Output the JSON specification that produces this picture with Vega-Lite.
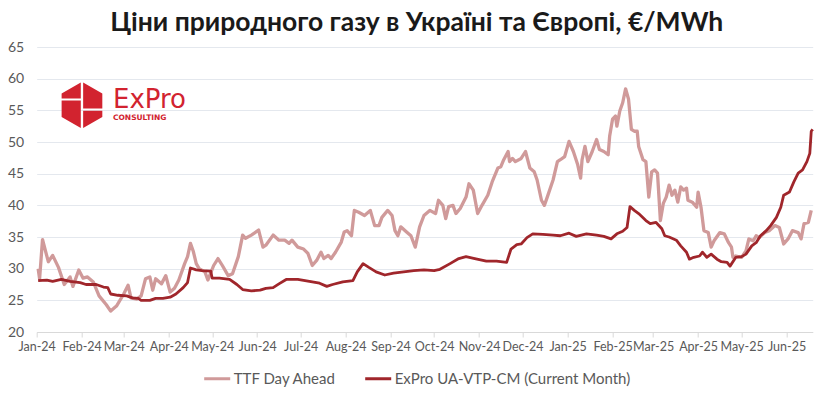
{
  "$schema": "https://vega.github.io/schema/vega-lite/v6.json",
  "width": 776,
  "height": 285,
  "autosize": {"type": "none"},
  "padding": {"left": 36.7, "top": 47, "right": 21.3, "bottom": 64},
  "background": "white",
  "title": {
    "text": "Ціни природного газу в Україні та Європі, €/MWh",
    "font": "Lato",
    "fontSize": 26.5,
    "fontWeight": "bold",
    "color": "#1a1a1a",
    "anchor": "middle",
    "frame": "group",
    "dx": -8,
    "dy": 36,
    "offset": 19,
    "baseline": "alphabetic"
  },
  "config": {
    "view": {"stroke": null},
    "font": "Lato"
  },
  "datasets": {
    "ttf": [
      {"date": "2024-01-02", "value": 30.0},
      {"date": "2024-01-03", "value": 28.4},
      {"date": "2024-01-05", "value": 34.6},
      {"date": "2024-01-09", "value": 31.1},
      {"date": "2024-01-12", "value": 32.1},
      {"date": "2024-01-16", "value": 30.2},
      {"date": "2024-01-20", "value": 27.5},
      {"date": "2024-01-24", "value": 28.7},
      {"date": "2024-01-26", "value": 27.2},
      {"date": "2024-01-30", "value": 29.8},
      {"date": "2024-02-02", "value": 28.5},
      {"date": "2024-02-05", "value": 28.7},
      {"date": "2024-02-09", "value": 27.9},
      {"date": "2024-02-13", "value": 25.7},
      {"date": "2024-02-18", "value": 24.3},
      {"date": "2024-02-21", "value": 23.3},
      {"date": "2024-02-25", "value": 24.1},
      {"date": "2024-03-01", "value": 26.0},
      {"date": "2024-03-04", "value": 27.4},
      {"date": "2024-03-06", "value": 25.4},
      {"date": "2024-03-10", "value": 25.2},
      {"date": "2024-03-13", "value": 25.7},
      {"date": "2024-03-16", "value": 28.4},
      {"date": "2024-03-19", "value": 28.7},
      {"date": "2024-03-21", "value": 26.6},
      {"date": "2024-03-23", "value": 28.4},
      {"date": "2024-03-27", "value": 27.6},
      {"date": "2024-03-30", "value": 28.9},
      {"date": "2024-04-02", "value": 26.3},
      {"date": "2024-04-05", "value": 26.9},
      {"date": "2024-04-08", "value": 28.2},
      {"date": "2024-04-12", "value": 30.8},
      {"date": "2024-04-14", "value": 31.9},
      {"date": "2024-04-16", "value": 34.0},
      {"date": "2024-04-18", "value": 32.7},
      {"date": "2024-04-20", "value": 30.8},
      {"date": "2024-04-22", "value": 30.0},
      {"date": "2024-04-26", "value": 29.5},
      {"date": "2024-04-28", "value": 28.2},
      {"date": "2024-05-02", "value": 30.5},
      {"date": "2024-05-05", "value": 31.6},
      {"date": "2024-05-08", "value": 30.5},
      {"date": "2024-05-12", "value": 28.9},
      {"date": "2024-05-15", "value": 29.2},
      {"date": "2024-05-19", "value": 31.9},
      {"date": "2024-05-22", "value": 35.3},
      {"date": "2024-05-24", "value": 34.8},
      {"date": "2024-05-28", "value": 35.3},
      {"date": "2024-05-30", "value": 35.6},
      {"date": "2024-06-02", "value": 36.1},
      {"date": "2024-06-05", "value": 33.4},
      {"date": "2024-06-07", "value": 33.7},
      {"date": "2024-06-12", "value": 35.3},
      {"date": "2024-06-16", "value": 34.5},
      {"date": "2024-06-20", "value": 34.5},
      {"date": "2024-06-23", "value": 34.0},
      {"date": "2024-06-25", "value": 34.5},
      {"date": "2024-06-29", "value": 33.4},
      {"date": "2024-07-03", "value": 33.1},
      {"date": "2024-07-06", "value": 32.4},
      {"date": "2024-07-09", "value": 30.5},
      {"date": "2024-07-12", "value": 31.3},
      {"date": "2024-07-15", "value": 32.6},
      {"date": "2024-07-17", "value": 31.6},
      {"date": "2024-07-20", "value": 32.1},
      {"date": "2024-07-22", "value": 31.6},
      {"date": "2024-07-25", "value": 32.6},
      {"date": "2024-07-29", "value": 34.2},
      {"date": "2024-07-31", "value": 35.8},
      {"date": "2024-08-02", "value": 36.0},
      {"date": "2024-08-05", "value": 35.2},
      {"date": "2024-08-07", "value": 39.2},
      {"date": "2024-08-10", "value": 38.9},
      {"date": "2024-08-14", "value": 38.4},
      {"date": "2024-08-18", "value": 39.2},
      {"date": "2024-08-21", "value": 36.8},
      {"date": "2024-08-24", "value": 36.8},
      {"date": "2024-08-26", "value": 38.1},
      {"date": "2024-08-30", "value": 39.2},
      {"date": "2024-09-02", "value": 38.4},
      {"date": "2024-09-04", "value": 36.0},
      {"date": "2024-09-06", "value": 35.2},
      {"date": "2024-09-08", "value": 36.6},
      {"date": "2024-09-12", "value": 35.8},
      {"date": "2024-09-15", "value": 35.2},
      {"date": "2024-09-18", "value": 33.4},
      {"date": "2024-09-21", "value": 36.6},
      {"date": "2024-09-24", "value": 38.4},
      {"date": "2024-09-28", "value": 39.2},
      {"date": "2024-10-02", "value": 38.7},
      {"date": "2024-10-04", "value": 40.8},
      {"date": "2024-10-07", "value": 40.0},
      {"date": "2024-10-09", "value": 37.9},
      {"date": "2024-10-11", "value": 39.8},
      {"date": "2024-10-14", "value": 40.0},
      {"date": "2024-10-16", "value": 38.7},
      {"date": "2024-10-19", "value": 39.5},
      {"date": "2024-10-23", "value": 41.3},
      {"date": "2024-10-25", "value": 43.4},
      {"date": "2024-10-28", "value": 42.4},
      {"date": "2024-10-31", "value": 38.7},
      {"date": "2024-11-03", "value": 40.0},
      {"date": "2024-11-07", "value": 41.6},
      {"date": "2024-11-10", "value": 43.7},
      {"date": "2024-11-14", "value": 45.9},
      {"date": "2024-11-16", "value": 46.1},
      {"date": "2024-11-18", "value": 47.2},
      {"date": "2024-11-21", "value": 48.5},
      {"date": "2024-11-22", "value": 46.9},
      {"date": "2024-11-24", "value": 47.4},
      {"date": "2024-11-26", "value": 46.9},
      {"date": "2024-11-30", "value": 47.4},
      {"date": "2024-12-03", "value": 48.5},
      {"date": "2024-12-06", "value": 45.9},
      {"date": "2024-12-09", "value": 45.3},
      {"date": "2024-12-11", "value": 44.0},
      {"date": "2024-12-14", "value": 40.8},
      {"date": "2024-12-16", "value": 40.0},
      {"date": "2024-12-18", "value": 41.3},
      {"date": "2024-12-22", "value": 44.0},
      {"date": "2024-12-25", "value": 46.9},
      {"date": "2024-12-27", "value": 47.2},
      {"date": "2024-12-30", "value": 47.7},
      {"date": "2025-01-02", "value": 50.1},
      {"date": "2025-01-05", "value": 48.5},
      {"date": "2025-01-08", "value": 46.4},
      {"date": "2025-01-10", "value": 44.3},
      {"date": "2025-01-11", "value": 47.2},
      {"date": "2025-01-13", "value": 49.3},
      {"date": "2025-01-15", "value": 46.9},
      {"date": "2025-01-18", "value": 48.5},
      {"date": "2025-01-21", "value": 50.4},
      {"date": "2025-01-23", "value": 48.8},
      {"date": "2025-01-26", "value": 48.5},
      {"date": "2025-01-29", "value": 48.0},
      {"date": "2025-01-30", "value": 50.9},
      {"date": "2025-02-01", "value": 53.6},
      {"date": "2025-02-03", "value": 54.1},
      {"date": "2025-02-04", "value": 52.5},
      {"date": "2025-02-06", "value": 54.9},
      {"date": "2025-02-08", "value": 56.2},
      {"date": "2025-02-10", "value": 58.4},
      {"date": "2025-02-12", "value": 56.8},
      {"date": "2025-02-14", "value": 52.0},
      {"date": "2025-02-16", "value": 51.7},
      {"date": "2025-02-18", "value": 51.7},
      {"date": "2025-02-19", "value": 49.3},
      {"date": "2025-02-22", "value": 47.2},
      {"date": "2025-02-24", "value": 46.9},
      {"date": "2025-02-26", "value": 41.3},
      {"date": "2025-02-28", "value": 45.3},
      {"date": "2025-03-02", "value": 45.6},
      {"date": "2025-03-04", "value": 45.1},
      {"date": "2025-03-06", "value": 37.6},
      {"date": "2025-03-08", "value": 40.3},
      {"date": "2025-03-10", "value": 41.3},
      {"date": "2025-03-12", "value": 43.2},
      {"date": "2025-03-14", "value": 41.6},
      {"date": "2025-03-16", "value": 42.4},
      {"date": "2025-03-18", "value": 40.5},
      {"date": "2025-03-20", "value": 42.9},
      {"date": "2025-03-22", "value": 42.4},
      {"date": "2025-03-24", "value": 42.7},
      {"date": "2025-03-25", "value": 40.8},
      {"date": "2025-03-28", "value": 40.5},
      {"date": "2025-03-31", "value": 39.7},
      {"date": "2025-04-01", "value": 42.1},
      {"date": "2025-04-03", "value": 39.7},
      {"date": "2025-04-05", "value": 36.0},
      {"date": "2025-04-08", "value": 35.7},
      {"date": "2025-04-10", "value": 33.4},
      {"date": "2025-04-12", "value": 34.4},
      {"date": "2025-04-16", "value": 35.7},
      {"date": "2025-04-19", "value": 35.5},
      {"date": "2025-04-22", "value": 34.1},
      {"date": "2025-04-24", "value": 33.4},
      {"date": "2025-04-25", "value": 31.8},
      {"date": "2025-04-27", "value": 32.0},
      {"date": "2025-05-01", "value": 31.8},
      {"date": "2025-05-04", "value": 32.8},
      {"date": "2025-05-06", "value": 34.7},
      {"date": "2025-05-09", "value": 34.4},
      {"date": "2025-05-11", "value": 35.2},
      {"date": "2025-05-13", "value": 34.9},
      {"date": "2025-05-17", "value": 35.7},
      {"date": "2025-05-20", "value": 36.0},
      {"date": "2025-05-24", "value": 36.8},
      {"date": "2025-05-27", "value": 36.5},
      {"date": "2025-05-30", "value": 33.9},
      {"date": "2025-06-02", "value": 34.7},
      {"date": "2025-06-05", "value": 36.0},
      {"date": "2025-06-09", "value": 35.7},
      {"date": "2025-06-11", "value": 34.7},
      {"date": "2025-06-13", "value": 37.1},
      {"date": "2025-06-16", "value": 37.3},
      {"date": "2025-06-18", "value": 39.2}
    ],
    "expro": [
      {"date": "2024-01-02", "value": 28.1},
      {"date": "2024-01-08", "value": 28.2},
      {"date": "2024-01-12", "value": 28.0},
      {"date": "2024-01-18", "value": 28.3},
      {"date": "2024-01-24", "value": 28.0},
      {"date": "2024-01-31", "value": 27.8},
      {"date": "2024-02-04", "value": 27.5},
      {"date": "2024-02-11", "value": 27.5},
      {"date": "2024-02-16", "value": 27.1},
      {"date": "2024-02-19", "value": 27.0},
      {"date": "2024-02-21", "value": 26.0},
      {"date": "2024-02-26", "value": 25.8},
      {"date": "2024-03-03", "value": 25.7},
      {"date": "2024-03-07", "value": 25.4},
      {"date": "2024-03-11", "value": 25.3},
      {"date": "2024-03-13", "value": 25.0},
      {"date": "2024-03-19", "value": 25.0},
      {"date": "2024-03-23", "value": 25.3},
      {"date": "2024-03-28", "value": 25.3},
      {"date": "2024-04-02", "value": 25.5},
      {"date": "2024-04-06", "value": 26.0},
      {"date": "2024-04-11", "value": 27.0},
      {"date": "2024-04-14", "value": 27.8},
      {"date": "2024-04-16", "value": 30.1},
      {"date": "2024-04-20", "value": 29.8},
      {"date": "2024-04-24", "value": 29.7},
      {"date": "2024-04-30", "value": 29.6},
      {"date": "2024-05-01", "value": 28.5},
      {"date": "2024-05-06", "value": 28.5},
      {"date": "2024-05-13", "value": 28.3},
      {"date": "2024-05-18", "value": 27.5},
      {"date": "2024-05-22", "value": 26.7},
      {"date": "2024-05-28", "value": 26.5},
      {"date": "2024-06-03", "value": 26.6},
      {"date": "2024-06-07", "value": 26.9},
      {"date": "2024-06-12", "value": 27.0},
      {"date": "2024-06-16", "value": 27.6},
      {"date": "2024-06-21", "value": 28.3},
      {"date": "2024-06-29", "value": 28.3},
      {"date": "2024-07-07", "value": 28.0},
      {"date": "2024-07-14", "value": 27.7},
      {"date": "2024-07-19", "value": 27.2},
      {"date": "2024-07-23", "value": 27.5},
      {"date": "2024-07-30", "value": 27.9},
      {"date": "2024-08-06", "value": 28.1},
      {"date": "2024-08-09", "value": 29.5},
      {"date": "2024-08-13", "value": 30.8},
      {"date": "2024-08-17", "value": 30.2},
      {"date": "2024-08-22", "value": 29.5},
      {"date": "2024-08-28", "value": 29.0},
      {"date": "2024-09-03", "value": 29.3},
      {"date": "2024-09-10", "value": 29.5},
      {"date": "2024-09-17", "value": 29.7},
      {"date": "2024-09-24", "value": 29.8},
      {"date": "2024-10-01", "value": 29.7},
      {"date": "2024-10-05", "value": 29.9},
      {"date": "2024-10-12", "value": 30.8},
      {"date": "2024-10-18", "value": 31.6},
      {"date": "2024-10-23", "value": 31.9},
      {"date": "2024-10-29", "value": 31.6},
      {"date": "2024-11-06", "value": 31.2},
      {"date": "2024-11-13", "value": 31.2},
      {"date": "2024-11-20", "value": 31.0},
      {"date": "2024-11-23", "value": 33.1},
      {"date": "2024-11-27", "value": 33.8},
      {"date": "2024-11-30", "value": 33.9},
      {"date": "2024-12-04", "value": 34.9},
      {"date": "2024-12-08", "value": 35.5},
      {"date": "2024-12-15", "value": 35.4},
      {"date": "2024-12-22", "value": 35.3},
      {"date": "2024-12-27", "value": 35.2},
      {"date": "2025-01-02", "value": 35.6},
      {"date": "2025-01-07", "value": 35.1},
      {"date": "2025-01-14", "value": 35.5},
      {"date": "2025-01-21", "value": 35.3},
      {"date": "2025-01-26", "value": 35.1},
      {"date": "2025-01-31", "value": 34.7},
      {"date": "2025-02-04", "value": 35.5},
      {"date": "2025-02-08", "value": 35.9},
      {"date": "2025-02-11", "value": 36.5},
      {"date": "2025-02-13", "value": 39.8},
      {"date": "2025-02-16", "value": 39.2},
      {"date": "2025-02-19", "value": 38.7},
      {"date": "2025-02-24", "value": 37.6},
      {"date": "2025-02-27", "value": 37.1},
      {"date": "2025-03-03", "value": 37.3},
      {"date": "2025-03-07", "value": 36.3},
      {"date": "2025-03-09", "value": 35.2},
      {"date": "2025-03-12", "value": 35.0},
      {"date": "2025-03-17", "value": 34.5},
      {"date": "2025-03-20", "value": 33.6},
      {"date": "2025-03-24", "value": 32.6},
      {"date": "2025-03-26", "value": 31.5},
      {"date": "2025-03-29", "value": 31.8},
      {"date": "2025-04-02", "value": 32.0},
      {"date": "2025-04-04", "value": 32.6},
      {"date": "2025-04-07", "value": 31.8},
      {"date": "2025-04-10", "value": 32.3},
      {"date": "2025-04-14", "value": 31.5},
      {"date": "2025-04-17", "value": 31.1},
      {"date": "2025-04-21", "value": 31.0},
      {"date": "2025-04-23", "value": 30.4},
      {"date": "2025-04-27", "value": 31.8},
      {"date": "2025-05-01", "value": 31.9},
      {"date": "2025-05-04", "value": 32.3},
      {"date": "2025-05-08", "value": 33.6},
      {"date": "2025-05-11", "value": 34.1},
      {"date": "2025-05-14", "value": 35.2},
      {"date": "2025-05-18", "value": 36.0},
      {"date": "2025-05-21", "value": 36.8},
      {"date": "2025-05-25", "value": 38.1},
      {"date": "2025-05-28", "value": 39.7},
      {"date": "2025-05-30", "value": 41.6},
      {"date": "2025-06-03", "value": 42.1},
      {"date": "2025-06-06", "value": 43.7},
      {"date": "2025-06-09", "value": 45.1},
      {"date": "2025-06-12", "value": 45.6},
      {"date": "2025-06-15", "value": 46.9},
      {"date": "2025-06-17", "value": 48.2},
      {"date": "2025-06-18", "value": 51.7},
      {"date": "2025-06-19", "value": 52.0}
    ]
  },
  "layer": [
    {
      "data": {"name": "ttf"},
      "mark": {"type": "line", "strokeWidth": 3.3, "strokeJoin": "round"},
      "encoding": {
        "x": {
          "field": "date",
          "type": "temporal",
          "scale": {
            "type": "utc",
            "domain": [
              {"year": 2024, "month": 1, "date": 1, "utc": true},
              {"year": 2025, "month": 6, "date": 19, "utc": true}
            ]
          },
          "axis": {
            "title": null,
            "labelExpr": "utcFormat(datum.value, '%b-%y')",
            "tickCount": {"interval": "month", "step": 1},
            "grid": false,
            "domain": true,
            "domainColor": "#d9d9d9",
            "domainWidth": 1,
            "ticks": true,
            "tickColor": "#d9d9d9",
            "tickSize": 5,
            "labelColor": "#595959",
            "labelFont": "Lato",
            "labelFontSize": 12.5,
            "labelPadding": 3,
            "labelFlush": false,
            "labelOverlap": false,
            "labelAlign": "center"
          }
        },
        "y": {
          "field": "value",
          "type": "quantitative",
          "scale": {"domain": [20, 65], "nice": false, "zero": false},
          "axis": {
            "title": null,
            "values": [20, 25, 30, 35, 40, 45, 50, 55, 60, 65],
            "domain": false,
            "ticks": false,
            "grid": true,
            "gridColor": "#e4e8ee",
            "gridWidth": 1,
            "labelColor": "#595959",
            "labelFont": "Lato",
            "labelFontSize": 14,
            "labelPadding": 13
          }
        },
        "color": {
          "datum": "TTF Day Ahead",
          "type": "nominal",
          "scale": {
            "domain": ["TTF Day Ahead", "ExPro UA-VTP-CM (Current Month)"],
            "range": ["#d09a9a", "#a0262b"]
          },
          "legend": {
            "title": null,
            "orient": "none",
            "legendX": 166,
            "legendY": 317,
            "direction": "horizontal",
            "symbolType": "stroke",
            "symbolSize": 676,
            "symbolStrokeWidth": 3,
            "labelFont": "Lato",
            "labelFontSize": 15,
            "labelColor": "#595959",
            "labelOffset": 2,
            "labelLimit": 400,
            "columnPadding": 22,
            "padding": 0
          }
        }
      }
    },
    {
      "data": {"name": "expro"},
      "mark": {"type": "line", "strokeWidth": 2.8, "strokeJoin": "round"},
      "encoding": {
        "x": {"field": "date", "type": "temporal"},
        "y": {
          "field": "value",
          "type": "quantitative",
          "axis": {
            "title": null,
            "values": [20, 25, 30, 35, 40, 45, 50, 55, 60, 65],
            "domain": false,
            "ticks": false,
            "grid": true,
            "gridColor": "#e4e8ee",
            "gridWidth": 1,
            "labelColor": "#595959",
            "labelFont": "Lato",
            "labelFontSize": 14,
            "labelPadding": 13
          }
        },
        "color": {"datum": "ExPro UA-VTP-CM (Current Month)", "type": "nominal"}
      }
    },
    {
      "data": {"values": [{"item": "logo"}]},
      "mark": {
        "type": "point",
        "shape": "M-0.05,-0.97 L-0.05,-0.29 L-0.866,-0.29 L-0.866,-0.5 Z M-0.866,-0.2 L-0.05,-0.2 L-0.05,0.97 L-0.866,0.5 Z M0.05,-0.97 L0.866,-0.5 L0.866,0.14 L0.05,0.14 Z M0.05,0.23 L0.866,0.23 L0.866,0.5 L0.05,0.97 Z",
        "filled": true,
        "color": "#d2232f",
        "opacity": 1,
        "size": 2209,
        "strokeWidth": 0
      },
      "encoding": {
        "x": {"datum": {"year": 2024, "month": 2, "date": 1, "hours": 5, "utc": true}, "type": "temporal"},
        "y": {
          "datum": 55.8,
          "type": "quantitative",
          "axis": {
            "title": null,
            "values": [20, 25, 30, 35, 40, 45, 50, 55, 60, 65],
            "domain": false,
            "ticks": false,
            "grid": true,
            "gridColor": "#e4e8ee",
            "gridWidth": 1,
            "labelColor": "#595959",
            "labelFont": "Lato",
            "labelFontSize": 14,
            "labelPadding": 13
          }
        }
      }
    },
    {
      "data": {"values": [{"item": "logo"}]},
      "mark": {"type": "text", "text": "ExPro", "font": "DejaVu Sans", "fontSize": 26, "color": "#d2232f", "align": "left", "baseline": "middle"},
      "encoding": {
        "x": {"datum": {"year": 2024, "month": 2, "date": 22, "hours": 14, "utc": true}, "type": "temporal"},
        "y": {
          "datum": 56.6,
          "type": "quantitative",
          "axis": {
            "title": null,
            "values": [20, 25, 30, 35, 40, 45, 50, 55, 60, 65],
            "domain": false,
            "ticks": false,
            "grid": true,
            "gridColor": "#e4e8ee",
            "gridWidth": 1,
            "labelColor": "#595959",
            "labelFont": "Lato",
            "labelFontSize": 14,
            "labelPadding": 13
          }
        }
      }
    },
    {
      "data": {"values": [{"item": "logo"}]},
      "mark": {"type": "text", "text": "CONSULTING", "font": "DejaVu Sans", "fontSize": 7.5, "fontWeight": "bold", "color": "#d2232f", "align": "left", "baseline": "middle"},
      "encoding": {
        "x": {"datum": {"year": 2024, "month": 2, "date": 22, "hours": 14, "utc": true}, "type": "temporal"},
        "y": {
          "datum": 53.8,
          "type": "quantitative",
          "axis": {
            "title": null,
            "values": [20, 25, 30, 35, 40, 45, 50, 55, 60, 65],
            "domain": false,
            "ticks": false,
            "grid": true,
            "gridColor": "#e4e8ee",
            "gridWidth": 1,
            "labelColor": "#595959",
            "labelFont": "Lato",
            "labelFontSize": 14,
            "labelPadding": 13
          }
        }
      }
    }
  ]
}
